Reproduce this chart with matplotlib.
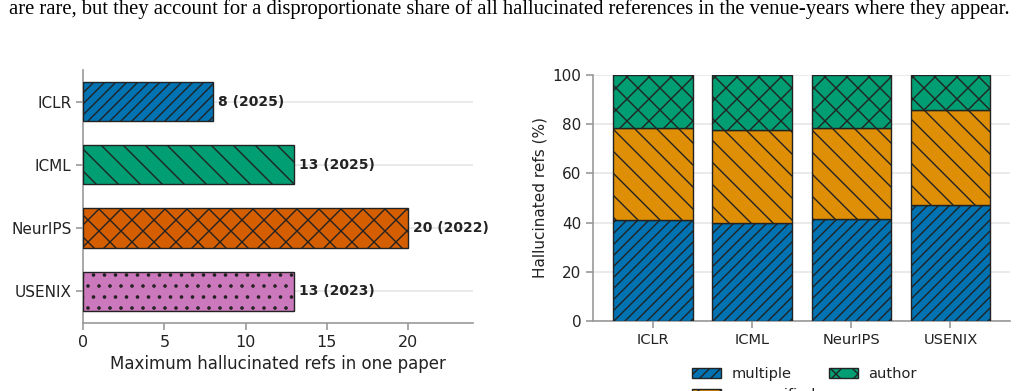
import numpy as np
import matplotlib.pyplot as plt

# venues and their worst single paper
venues = ['ICLR', 'ICML', 'NeurIPS', 'USENIX']
max_refs = [8, 13, 20, 13]
max_years = [2025, 2025, 2022, 2023]

# share of hallucinated refs per error type (%)
multiple = [40.9, 39.9, 41.3, 47.3]
unspecified = [37.7, 37.7, 37.3, 38.7]
author = [21.4, 22.4, 21.4, 14.0]

caption = ('are rare, but they account for a disproportionate share of all '
           'hallucinated references in the venue-years where they appear.')

venue_colors = ['#0173B2', '#029E73', '#D55E00', '#CC78BC']
venue_hatches = ['//', '\\', 'x', '.']
type_colors = {'multiple': '#0173B2', 'unspecified': '#DE8F05', 'author': '#029E73'}
type_hatches = {'multiple': '//', 'unspecified': '\\', 'author': 'x'}

# rendered at a low dpi so the hatch spacing matches; K scales point sizes back up
DPI = 200 / 3
K = 100 / DPI
W, H = 1018, 391

plt.rcParams['font.family'] = 'DejaVu Sans'
plt.rcParams['hatch.linewidth'] = 1.0 * K
plt.rcParams['hatch.color'] = '#222222'
plt.rcParams['text.color'] = '#222222'
plt.rcParams['xtick.color'] = '#999999'
plt.rcParams['ytick.color'] = '#999999'
plt.rcParams['xtick.labelcolor'] = '#222222'
plt.rcParams['ytick.labelcolor'] = '#222222'
plt.rcParams['axes.labelcolor'] = '#222222'

fig = plt.figure(figsize=(W / DPI, H / DPI), dpi=DPI)

def px_axes(x0, y0, x1, y1):
    # pixel box (top-left origin) -> figure fraction
    return fig.add_axes([x0 / W, 1 - y1 / H, (x1 - x0) / W, (y1 - y0) / H])

fig.text(0.5, 1 - 9 / H, caption, ha='center', va='center',
         family='Liberation Serif', fontsize=14.9 * K, color='black')

# left: maximum per paper
ax1 = px_axes(83.3, 70, 472.7, 322.7)
y = np.arange(len(venues))
bars = ax1.barh(y, max_refs, height=0.62, color=venue_colors,
                edgecolor='#222222', linewidth=1.0 * K, zorder=3)
for b, h in zip(bars, venue_hatches):
    b.set_hatch(h)
for yi, v, yr in zip(y, max_refs, max_years):
    ax1.text(v + 0.3, yi, f'{v} ({yr})', va='center', ha='left',
             fontsize=10 * K, fontweight='bold', color='#222222')
ax1.set_yticks(y)
ax1.set_yticklabels(venues, fontsize=11 * K)
ax1.set_ylim(3.5, -0.5)
ax1.set_xlim(0, 24)
ax1.set_xticks([0, 5, 10, 15, 20])
ax1.tick_params(axis='x', labelsize=11.5 * K)
ax1.set_xlabel('Maximum hallucinated refs in one paper', fontsize=12 * K, labelpad=4 * K)
ax1.grid(axis='y', color='#e6e6e6', linewidth=1.2 * K, zorder=0)
ax1.set_axisbelow(True)

# right: breakdown by type
ax2 = px_axes(593.3, 75.3, 1010, 320.7)
x = np.arange(len(venues))
bottom = np.zeros(len(venues))
handles = []
for name, vals in [('multiple', multiple), ('unspecified', unspecified), ('author', author)]:
    bc = ax2.bar(x, vals, bottom=bottom, width=0.8, color=type_colors[name],
                 hatch=type_hatches[name], edgecolor='#222222', linewidth=1.0 * K,
                 label=name, zorder=3)
    bottom += np.array(vals)
    handles.append(bc)
ax2.set_xticks(x)
ax2.set_xticklabels(venues, fontsize=10.5 * K)
ax2.set_xlim(-0.6, 3.6)
ax2.set_ylim(0, 100)
ax2.set_yticks([0, 20, 40, 60, 80, 100])
ax2.tick_params(axis='y', labelsize=11 * K)
ax2.set_ylabel('Hallucinated refs (%)', fontsize=11 * K, labelpad=4 * K)
ax2.grid(axis='y', color='#e6e6e6', linewidth=1.2 * K, zorder=0)
ax2.set_axisbelow(True)
fig.legend(handles=handles, labels=['multiple', 'unspecified', 'author'],
           loc='upper center', bbox_to_anchor=(804.6 / W, 1 - 354 / H),
           ncol=2, frameon=False, fontsize=10.5 * K, columnspacing=0.9,
           handlelength=2.0, handleheight=0.7, handletextpad=0.7)

for ax in (ax1, ax2):
    for s in ('top', 'right'):
        ax.spines[s].set_visible(False)
    for s in ('left', 'bottom'):
        ax.spines[s].set_color('#999999')
        ax.spines[s].set_linewidth(1.2 * K)
    ax.tick_params(length=5 * K, width=1.2 * K, pad=3.5 * K)

fig.savefig('out.png', dpi=DPI)
